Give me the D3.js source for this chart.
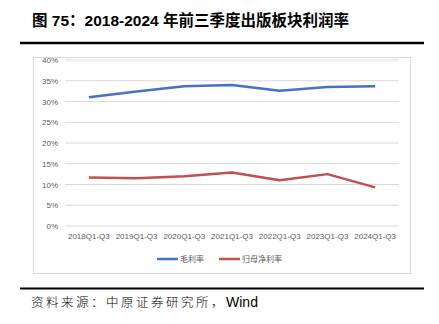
<!DOCTYPE html>
<html><head><meta charset="utf-8">
<script src="https://cdn.jsdelivr.net/npm/d3@7/dist/d3.min.js"></script>
<style>body{margin:0;background:#fff}svg{display:block}</style>
</head><body>
<script>
const categories = ["2018Q1-Q3","2019Q1-Q3","2020Q1-Q3","2021Q1-Q3","2022Q1-Q3","2023Q1-Q3","2024Q1-Q3"];
const grossMargin = [31.0, 32.4, 33.7, 34.0, 32.6, 33.5, 33.7];
const netMargin = [11.7, 11.5, 12.0, 12.9, 11.0, 12.5, 9.3];
const yTicks = [0,5,10,15,20,25,30,35,40];
const seriesNames = ["毛利率","归母净利率"];
const seriesColors = ["#4472C4","#C0504D"];

const W=439,H=324;
const svg=d3.select("body").append("svg").attr("width",W).attr("height",H);
const font="'Liberation Sans','Noto Sans CJK SC',sans-serif";
const cjk="'Noto Sans CJK SC',sans-serif";

svg.append("text").attr("x",32).attr("y",26).attr("font-family",font).attr("font-weight","bold")
  .attr("font-size",15.5).attr("fill","#000").text("图 75：2018-2024 年前三季度出版板块利润率");
svg.append("line").attr("x1",20).attr("x2",424).attr("y1",43).attr("y2",43).attr("stroke","#000").attr("stroke-width",2.5);

svg.append("rect").attr("x",33.5).attr("y",57.5).attr("width",377).attr("height",216)
  .attr("fill","#fff").attr("stroke","#d9d9d9").attr("stroke-width",1);

const x=d3.scaleBand().domain(categories).range([65,399]);
const y=d3.scaleLinear().domain([0,40]).range([226,60]);

const g=svg.append("g");
g.selectAll("line.grid").data(yTicks).join("line").attr("class","grid")
  .attr("x1",65).attr("x2",399).attr("y1",d=>y(d)).attr("y2",d=>y(d))
  .attr("stroke","#d9d9d9").attr("stroke-width",1);

const yAxis=svg.append("g").attr("transform","translate(58,0)")
  .call(d3.axisLeft(y).tickValues(yTicks).tickFormat(d=>d+"%").tickSize(0).tickPadding(0));
yAxis.select(".domain").remove();
yAxis.selectAll("text").attr("font-family",font).attr("font-size",8).attr("fill","#595959");

const xAxis=svg.append("g").attr("transform","translate(0,233)")
  .call(d3.axisBottom(x).tickSize(0).tickPadding(0));
xAxis.select(".domain").remove();
xAxis.selectAll("text").attr("font-family",font).attr("font-size",8).attr("fill","#595959");

const line=d3.line().x((d,i)=>x(categories[i])+x.bandwidth()/2).y(d=>y(d));
[grossMargin,netMargin].forEach((s,k)=>{
  svg.append("path").datum(s).attr("d",line).attr("fill","none")
    .attr("stroke",seriesColors[k]).attr("stroke-width",2.5).attr("stroke-linejoin","round");
});

const legX=[157,219];
seriesNames.forEach((n,k)=>{
  svg.append("line").attr("x1",legX[k]).attr("x2",legX[k]+21).attr("y1",259).attr("y2",259)
    .attr("stroke",seriesColors[k]).attr("stroke-width",2.5);
  svg.append("text").attr("x",legX[k]+23).attr("y",262).attr("font-family",cjk).attr("font-size",8)
    .attr("fill","#595959").text(n);
});

svg.append("line").attr("x1",20).attr("x2",424).attr("y1",288.5).attr("y2",288.5).attr("stroke","#000").attr("stroke-width",2);
const src=svg.append("text").attr("x",31).attr("y",307).attr("fill","#000");
src.append("tspan").attr("font-family",cjk).attr("font-size",12.5).attr("letter-spacing",2.5).attr("font-weight",300)
  .text("资料来源：中原证券研究所，");
src.append("tspan").attr("font-family","'Liberation Sans',sans-serif").attr("font-size",14).text("Wind");
</script>
</body></html>
